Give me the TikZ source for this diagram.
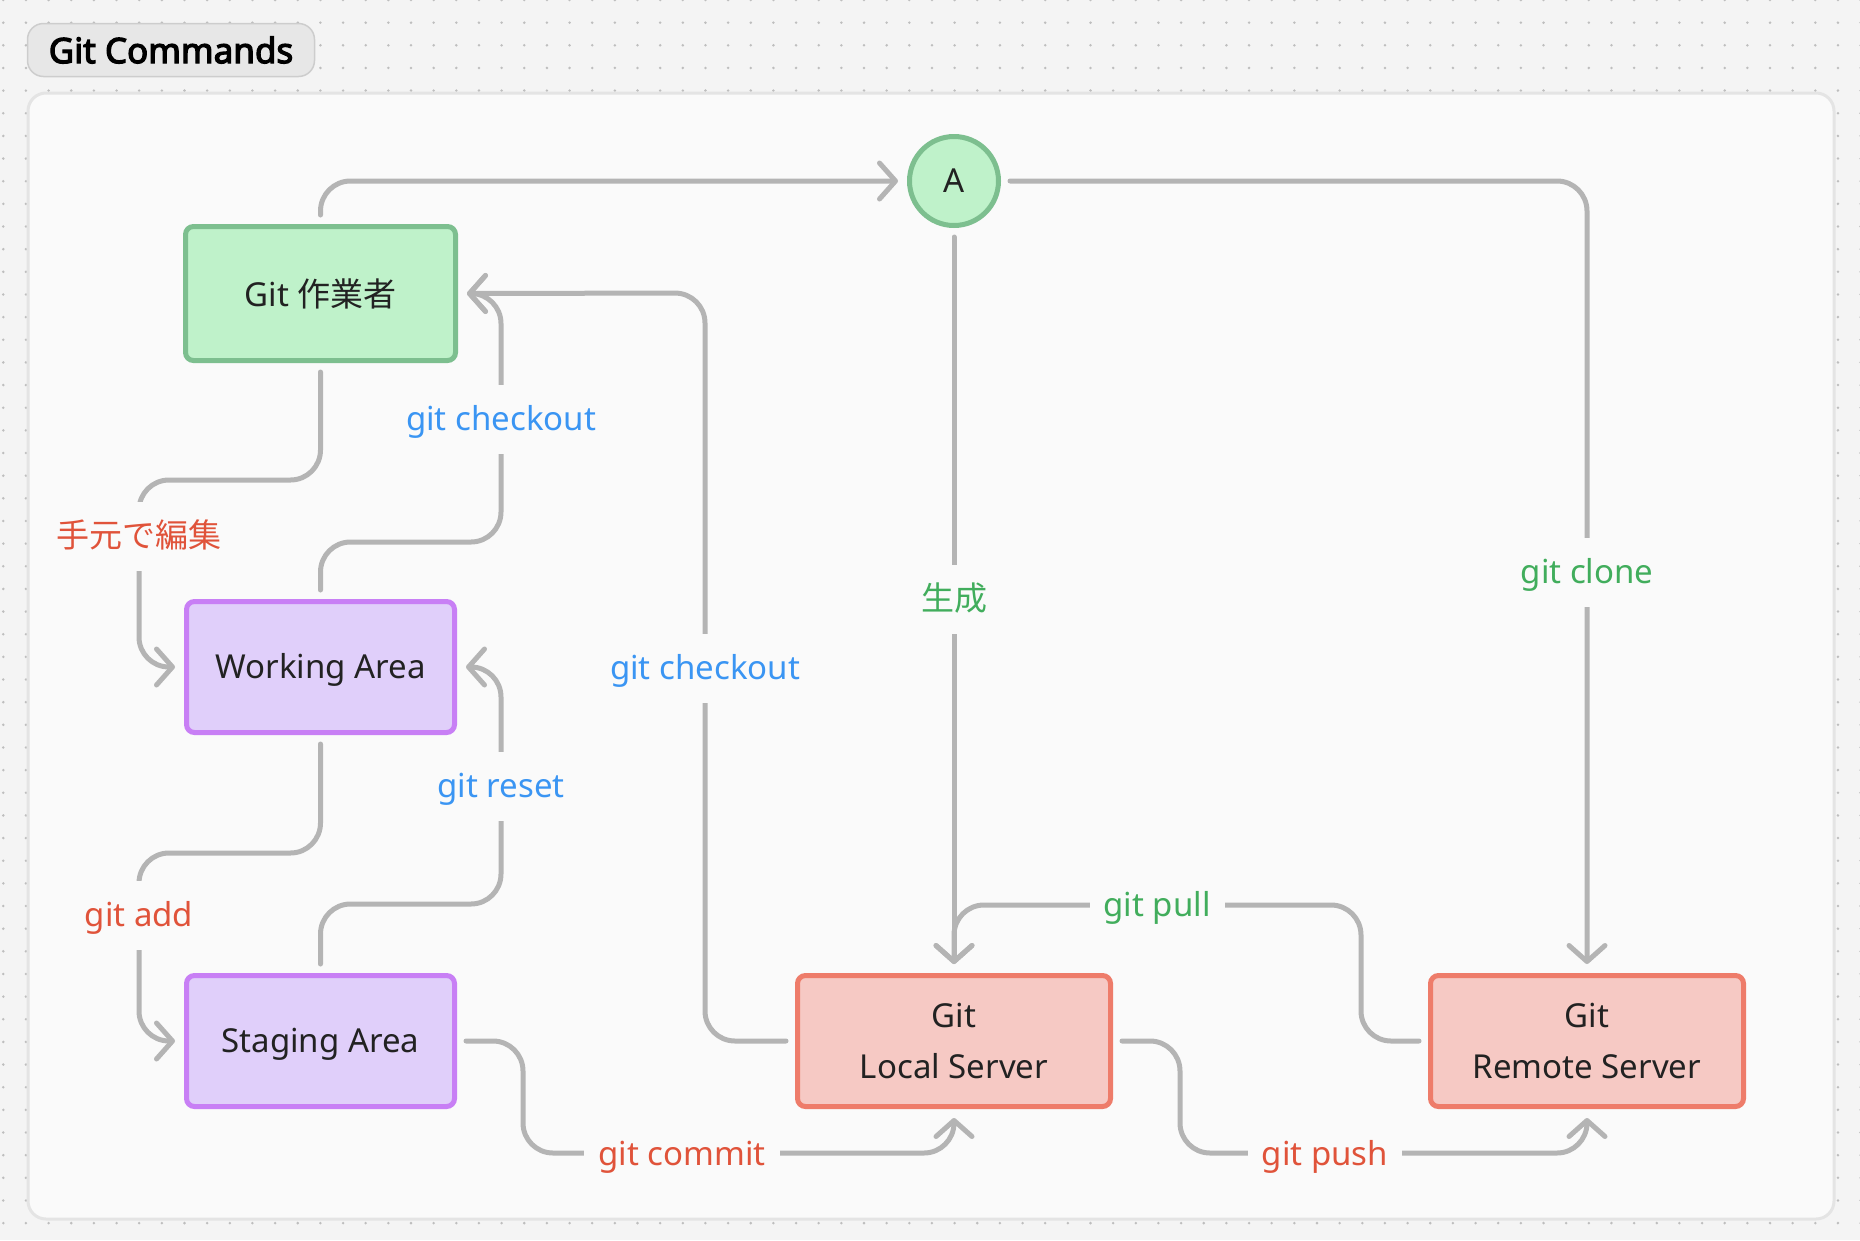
\documentclass[tikz,border=0pt]{standalone}
\usepackage{fontspec}
\setmainfont{Noto Sans}
\newfontfamily\jp{Noto Sans CJK JP}
\newfontfamily\titlefont[FakeBold=3.5]{Noto Sans}
\usetikzlibrary{arrows.meta}
\definecolor{bgc}{HTML}{F4F4F4}
\definecolor{dotc}{HTML}{BEBEBE}
\definecolor{innerc}{HTML}{FAFAFA}
\definecolor{framec}{HTML}{E4E4E4}
\definecolor{titlefill}{HTML}{E7E7E7}
\definecolor{titledraw}{HTML}{CDCDCD}
\definecolor{edgec}{HTML}{B4B4B4}
\definecolor{txtc}{HTML}{222222}
\definecolor{gfill}{HTML}{BFF2CA}
\definecolor{gdraw}{HTML}{7DBF8F}
\definecolor{pfill}{HTML}{E0CFFA}
\definecolor{pdraw}{HTML}{C87FF5}
\definecolor{rfill}{HTML}{F6C9C4}
\definecolor{rdraw}{HTML}{EE7C6A}
\definecolor{lblue}{HTML}{3A95F3}
\definecolor{lred}{HTML}{E0533A}
\definecolor{lgreen}{HTML}{41AD5C}
\tikzset{
  edge/.style={draw=edgec, line width=5pt, line cap=round, rounded corners=30pt,
    shorten <=9pt, shorten >=9pt, -{Straight Barb[round,length=16pt,width=36pt]}},
  box/.style={rectangle, rounded corners=8pt, line width=5pt,
    font=\fontsize{33}{51}\selectfont, text=txtc, align=center},
  gbox/.style={box, draw=gdraw, fill=gfill, minimum width=270pt, minimum height=134pt},
  pbox/.style={box, draw=pdraw, fill=pfill, minimum width=268pt, minimum height=131pt,
    text height=27pt, text depth=5pt},
  rbox/.style={box, draw=rdraw, fill=rfill, minimum width=313pt, minimum height=131pt},
  lbl/.style={fill=innerc, inner xsep=14pt, inner ysep=19pt,
    font=\fontsize{33}{40}\selectfont, text height=27pt, text depth=4pt},
  titlebox/.style={rectangle, rounded corners=16pt, fill=titlefill, draw=titledraw,
    line width=1.5pt, minimum width=287pt, minimum height=53pt,
    font=\titlefont\fontsize{35}{40}\selectfont, text=black},
}
\begin{document}
\begin{tikzpicture}[x=1pt,y=-1pt]
\useasboundingbox (0,0) rectangle (1860,1240);
\fill[bgc] (0,0) rectangle (1860,1240);
\foreach \j in {0,...,54} {
  \draw[dotc, line width=2.8pt, line cap=round, dash pattern=on 0pt off 22.65pt]
    (3.3,{22.65*\j}) -- (1862,{22.65*\j});
}
% container
\draw[fill=innerc, draw=framec, line width=3pt, rounded corners=18pt] (28,93) rectangle (1834,1219);
% title
\node[titlebox] (title) at (171,50) {Git Commands};
% nodes
\node[gbox] (worker) at (320.5,293.5) {Git {\jp 作業者}};
\node[pbox] (working) at (320.5,667) {Working Area};
\node[pbox] (staging) at (320.5,1041) {Staging Area};
\node[rbox] (local) at (954,1041) {Git\\Local Server};
\node[rbox] (remote) at (1587,1041) {Git\\Remote Server};
\node[circle, draw=gdraw, fill=gfill, line width=5pt, minimum size=89pt, inner sep=0pt,
  font=\fontsize{33}{40}\selectfont, text=txtc] (A) at (954,181) {A};
% edges
\draw[edge] (worker.north) |- (A.west);
\draw[edge] (A.east) -| (remote.north);
\draw[edge] (A.south) -- (local.north);
\draw[edge] (worker.south) |- (139,480) |- (working.west);
\draw[edge] (working.north) |- (501,542) |- (worker.east);
\draw[edge] (local.west) -| (705,293) -- (worker.east);
\draw[edge] (working.south) |- (139,853) |- (staging.west);
\draw[edge] (staging.north) |- (501,904) |- (working.east);
\draw[edge] (staging.east) -| (523,1153) -| (local.south);
\draw[edge] (local.east) -| (1180,1153) -| (remote.south);
\draw[edge] (remote.west) -| (1361,905) -| (local.north);
% labels
\node[lbl, text=lblue] (l1) at (501,419) {git checkout};
\node[lbl, text=lred] (l2) at (139,536) {\jp 手元で編集};
\node[lbl, text=lblue] (l3) at (501,786) {git reset};
\node[lbl, text=lred] (l4) at (139,915) {git add};
\node[lbl, text=lblue] (l5) at (705,668) {git checkout};
\node[lbl, text=lgreen] (l6) at (954,599) {\jp 生成};
\node[lbl, text=lgreen] (l7) at (1587,572) {git clone};
\node[lbl, text=lgreen] (l8) at (1157,905) {git pull};
\node[lbl, text=lred] (l9) at (682,1154) {git commit};
\node[lbl, text=lred] (l10) at (1325,1154) {git push};
\end{tikzpicture}
\end{document}
